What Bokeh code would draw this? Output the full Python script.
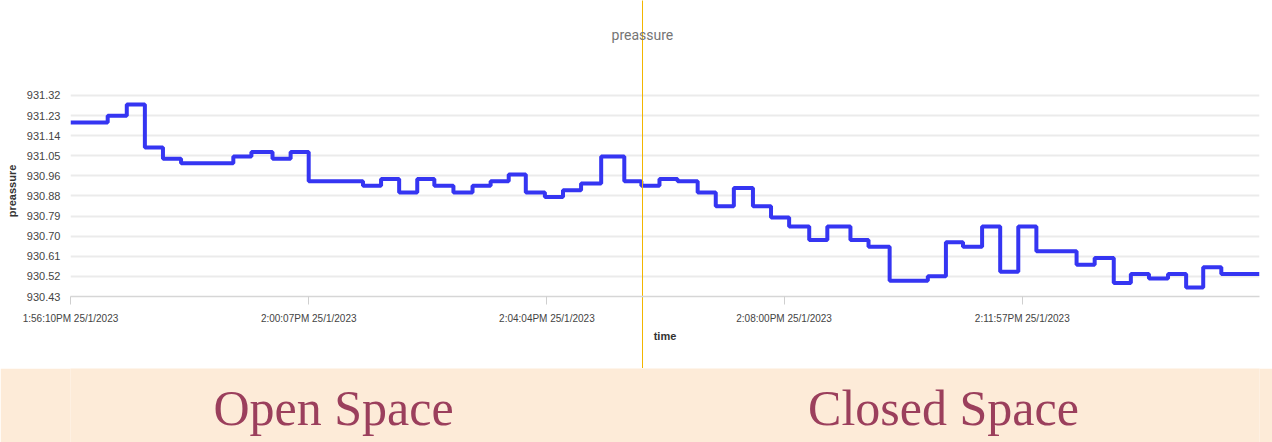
import pandas as pd
from bokeh.plotting import figure
from bokeh.layouts import column
from bokeh.models import (Range1d, FixedTicker, DatetimeTickFormatter, DatetimeAxis,
                          CustomJSTickFormatter, ColumnDataSource)
from bokeh.core.properties import value
from bokeh.embed import file_html
from bokeh.resources import INLINE

# ---------------- data ----------------
times = [
    "13:56:10", "13:56:47", "13:57:06", "13:57:24", "13:57:42", "13:58:00", "13:58:52",
    "13:59:10", "13:59:31", "13:59:49", "14:00:07", "14:01:01", "14:01:19", "14:01:37",
    "14:01:55", "14:02:12", "14:02:31", "14:02:50", "14:03:08", "14:03:26", "14:03:43",
    "14:04:02", "14:04:20", "14:04:38", "14:04:58", "14:05:21", "14:05:38", "14:05:56",
    "14:06:14", "14:06:34", "14:06:52", "14:07:10", "14:07:29", "14:07:47", "14:08:05",
    "14:08:25", "14:08:43", "14:09:06", "14:09:24", "14:09:45", "14:10:23", "14:10:41",
    "14:10:58", "14:11:17", "14:11:35", "14:11:53", "14:12:11", "14:12:51", "14:13:09",
    "14:13:28", "14:13:45", "14:14:03", "14:14:22", "14:14:40", "14:14:57", "14:15:15",
    "14:15:53",
]
pressure = [
    931.20, 931.23, 931.28, 931.09, 931.04, 931.02, 931.05,
    931.07, 931.04, 931.07, 930.94, 930.92, 930.95, 930.89,
    930.95, 930.92, 930.89, 930.92, 930.94, 930.97, 930.89,
    930.87, 930.90, 930.93, 931.05, 930.94, 930.92, 930.95,
    930.94, 930.89, 930.83, 930.91, 930.83, 930.78, 930.74,
    930.68, 930.74, 930.68, 930.65, 930.50, 930.52, 930.67,
    930.65, 930.74, 930.54, 930.74, 930.63, 930.57, 930.60,
    930.49, 930.53, 930.51, 930.53, 930.47, 930.56, 930.53,
    930.53,
]
date = "2023-01-25"
x_tick_times = ["13:56:10", "14:00:07", "14:04:04", "14:08:00", "14:11:57"]
y_ticks = [930.43, 930.519, 930.608, 930.697, 930.786, 930.875,
           930.964, 931.053, 931.142, 931.231, 931.32]
y_tick_labels = ["930.43", "930.52", "930.61", "930.70", "930.79", "930.88",
                 "930.96", "931.05", "931.14", "931.23", "931.32"]
divider_time = "14:05:39"
region_labels = ["Open Space", "Closed Space"]
chart_title = "preassure"
x_label = "time"
y_label = "preassure"


def ms(t):
    return pd.Timestamp(f"{date} {t}").value / 1e6


xs = [pd.Timestamp(f"{date} {t}") for t in times]
src = ColumnDataSource(dict(t=xs, v=pressure))

W = 1272
TOP_H = 368
BAND_H = 74
LEFT, RIGHT = 70, 13
BAND_COLOR = "#FDEBD8"

# ---------------- chart ----------------
p = figure(width=W, height=TOP_H, x_axis_type="datetime",
           output_backend="svg", toolbar_location=None,
           min_border_left=LEFT, min_border_right=RIGHT, min_border_top=85, min_border_bottom=72,
           x_range=Range1d(ms(times[0]), ms(times[-1])),
           y_range=Range1d(930.43, 931.364))
p.outline_line_color = None
p.background_fill_color = "white"
p.border_fill_color = "white"

p.step("t", "v", source=src, mode="after", line_color="#3535F2", line_width=4)

# x axis
xa = p.xaxis[0]
xa.ticker = FixedTicker(ticks=[ms(t) for t in x_tick_times])
fmt = "%-I:%M:%S%p %-d/%-m/%Y"
xa.formatter = DatetimeTickFormatter(milliseconds=fmt, seconds=fmt, minsec=fmt, minutes=fmt,
                                     hourmin=fmt, hours=fmt, days=fmt, months=fmt, years=fmt)
xa.axis_line_color = "#d6d6d6"
xa.axis_line_width = 1.5
xa.major_tick_line_color = "#cfcfcf"
xa.major_tick_out = 8
xa.major_tick_in = 0
xa.minor_tick_line_color = None
xa.major_label_standoff = 8
xa.major_label_text_font = "Liberation Sans"
xa.major_label_text_font_size = "10px"
xa.major_label_text_color = "#444444"
xa.axis_label = x_label
xa.axis_label_standoff = 3
xa.axis_label_text_font = "Liberation Sans"
xa.axis_label_text_font_size = "11px"
xa.axis_label_text_font_style = "bold"
xa.axis_label_text_color = "#333333"

# y axis
ya = p.yaxis[0]
ya.ticker = FixedTicker(ticks=y_ticks)
ya.major_label_overrides = {t: l for t, l in zip(y_ticks, y_tick_labels)}
ya.axis_line_color = None
ya.major_tick_line_color = None
ya.major_tick_out = 0
ya.major_tick_in = 0
ya.minor_tick_line_color = None
ya.major_label_standoff = 10
ya.major_label_text_font = "Liberation Sans"
ya.major_label_text_font_size = "11px"
ya.major_label_text_color = "#444444"
ya.axis_label = y_label
ya.axis_label_standoff = 6
ya.axis_label_text_font = "Liberation Sans"
ya.axis_label_text_font_size = "11px"
ya.axis_label_text_font_style = "bold"
ya.axis_label_text_color = "#333333"

p.xgrid.grid_line_color = None
p.ygrid.ticker = FixedTicker(ticks=y_ticks)
p.ygrid.grid_line_color = "#ebebeb"
p.ygrid.grid_line_width = 2

# divider between open and closed space (full-height line) carrying the chart title
top_axis = DatetimeAxis(ticker=FixedTicker(ticks=[ms(divider_time)]),
                        formatter=CustomJSTickFormatter(code=f"return {chart_title!r};"))
top_axis.axis_line_color = None
top_axis.minor_tick_line_color = None
top_axis.major_tick_line_color = "#F2B600"
top_axis.major_tick_line_width = 1
top_axis.major_tick_out = 85
top_axis.major_tick_in = 283
top_axis.major_label_standoff = -42
top_axis.major_label_text_font = "Roboto"
top_axis.major_label_text_font_size = "14px"
top_axis.major_label_text_color = "#757575"
p.add_layout(top_axis, "above")

# ---------------- region band ----------------
band = figure(width=W, height=BAND_H, output_backend="svg", toolbar_location=None,
              x_range=Range1d(LEFT, W - RIGHT), y_range=Range1d(0, BAND_H),
              x_axis_location=None, y_axis_location=None,
              min_border=0, min_border_left=LEFT, min_border_right=RIGHT,
              min_border_top=0, min_border_bottom=0)
band.grid.visible = False
band.outline_line_color = None
band.background_fill_color = BAND_COLOR
band.border_fill_color = BAND_COLOR
band_src = ColumnDataSource(dict(x=[333, 943], y=[35, 35], label=region_labels))
band.text(x="x", y="y", text="label", source=band_src, text_align="center",
          text_baseline="alphabetic", text_font=value("Liberation Serif"),
          text_font_size="50px", text_color="#9B3F5C")

layout = column(p, band, spacing=0)
open("out.html", "w").write(file_html(layout, INLINE))
